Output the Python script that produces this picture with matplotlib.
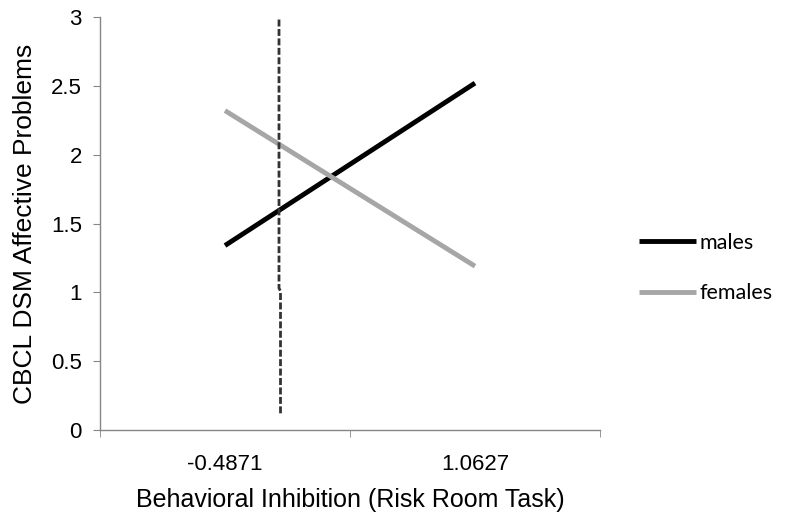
import matplotlib
matplotlib.use("Agg")
import matplotlib.pyplot as plt

categories = ["-0.4871", "1.0627"]
males = [1.34, 2.52]
females = [2.32, 1.19]
yticks = [0, 0.5, 1, 1.5, 2, 2.5, 3]
ytick_labels = ['0', '0.5', '1', '1.5', '2', '2.5', '3']
# dashed reference line (x in category units, y in data units)
ref_x = [0.214, 0.216, 0.216, 0.222, 0.222]
ref_y = [3.05, 3.02, 1.03, 1.01, 0.12]

plt.rcParams['font.family'] = ['Liberation Sans', 'DejaVu Sans']

fig = plt.figure(figsize=(7.88, 5.23), dpi=100)
ax = fig.add_axes([100/788, 1-430/523, 500/788, 413/523])

x = list(range(len(categories)))
ax.plot(x, males, color='black', lw=3.5, solid_capstyle='butt', label='males', zorder=3)
ax.plot(x, females, color='#a6a6a6', lw=3.5, solid_capstyle='butt', label='females', zorder=3)
ax.plot(ref_x, ref_y, color='#333333', lw=2.0, ls=(0, (2.5, 0.9)), zorder=4)

ax.set_xlim(-0.5, 1.5)
ax.set_ylim(0, 3)
ax.set_yticks(yticks)
ax.set_yticklabels(ytick_labels)
ax.set_xticks(x)
ax.set_xticklabels(categories)
ax.set_xticks([-0.5, 0.5, 1.5], minor=True)
ax.tick_params(axis='x', which='major', length=0, pad=17, labelsize=16)
ax.tick_params(axis='x', which='minor', length=5, color='#868686', direction='out')
ax.tick_params(axis='y', length=5, color='#868686', direction='out', labelsize=16, pad=8)

for s in ['top', 'right']:
    ax.spines[s].set_visible(False)
for s in ['left', 'bottom']:
    ax.spines[s].set_color('#868686')
    ax.spines[s].set_linewidth(1.0)

ax.set_xlabel('Behavioral Inhibition (Risk Room Task)', fontsize=18, labelpad=10)
ax.set_ylabel('CBCL DSM Affective Problems', fontsize=19, labelpad=10)

leg = ax.legend(loc='center left', bbox_to_anchor=(1.078, 0.392), frameon=False,
                handlelength=2.65, handletextpad=0.15, labelspacing=1.42,
                borderaxespad=0.0, borderpad=0.0,
                prop={'family': ['Lato', 'DejaVu Sans'], 'size': 15.5})

fig.savefig('out.png', dpi=100)
